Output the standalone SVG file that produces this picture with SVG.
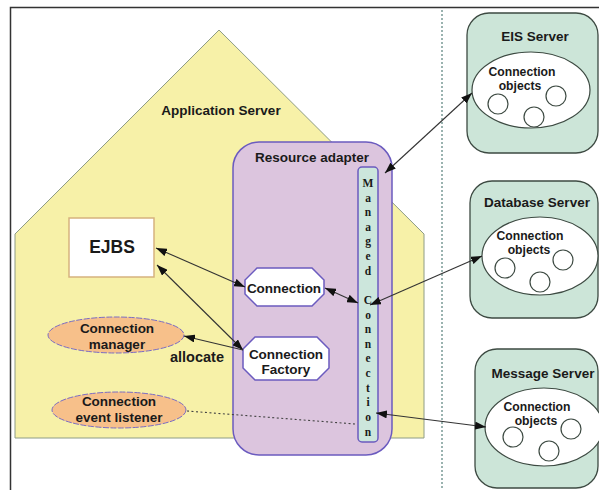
<svg xmlns="http://www.w3.org/2000/svg" width="599" height="490" viewBox="0 0 599 490">
  <style>
    text { font-family: "Liberation Sans", Arial, Helvetica, sans-serif; font-weight: bold; fill: #1a1a1a; text-anchor: middle; }
    .t135 { font-size: 13.5px; }
    .t12 { font-size: 12.2px; }
    .mc { font-family: "Liberation Serif", "Times New Roman", serif; font-size: 11.5px; font-weight: bold; }
    .frame { fill: none; stroke: #333; stroke-width: 1.5; }
    .house { fill: #f7f1a8; stroke: #8e9c86; stroke-width: 1; }
    .ra { fill: #dcc5de; stroke: #6b5bbf; stroke-width: 1.5; }
    .mcbox { fill: #cce6dc; stroke: #6b5bbf; stroke-width: 1.5; }
    .oct { fill: #ffffff; stroke: #6b5bbf; stroke-width: 1.5; }
    .ejb { fill: #ffffff; stroke: #d6b27e; stroke-width: 1.5; }
    .orange { fill: #f7c08a; stroke: #7a6cc4; stroke-width: 1; stroke-dasharray: 6 1.5; }
    .server { fill: #cce5d8; stroke: #3d4a42; stroke-width: 1.3; }
    .pool { fill: #ffffff; stroke: #3d4a42; stroke-width: 1.2; }
    .obj { fill: #ffffff; stroke: #3d4a42; stroke-width: 1.2; }
    .divider { stroke: #7a9a96; stroke-width: 1.5; stroke-dasharray: 2 2; fill: none; }
    .link { stroke: #333; stroke-width: 1.1; fill: none; }
    .dotted { stroke: #444; stroke-width: 1.1; stroke-dasharray: 2 2.5; fill: none; }
  </style>
  <defs>
    <marker id="head" markerUnits="userSpaceOnUse" markerWidth="11" markerHeight="8" refX="11" refY="4" orient="auto-start-reverse">
      <path d="M0,0 L11,4 L0,8 z" fill="#111"/>
    </marker>
  </defs>

  <!-- page frame -->
  <path class="frame" d="M10.5,490 L10.5,7.5 L599,7.5"/>
  <!-- zone divider -->
  <line class="divider" x1="442" y1="10" x2="442" y2="490"/>

  <!-- application server -->
  <g id="application-server">
    <polygon class="house" points="15,234 219,30 424,234 424,438 15,438"/>
    <text class="t135" x="221" y="115">Application Server</text>
  </g>

  <!-- resource adapter -->
  <g id="resource-adapter">
    <rect class="ra" x="233" y="142" width="159" height="313" rx="26" ry="26"/>
    <text class="t135" x="312" y="162">Resource adapter</text>
  </g>

  <g id="managed-connection">
    <rect class="mcbox" x="358" y="167" width="20" height="275" rx="4" ry="4"/>
    <text class="mc" x="368" y="187">M</text>
    <text class="mc" x="368" y="202">a</text>
    <text class="mc" x="368" y="216">n</text>
    <text class="mc" x="368" y="231">a</text>
    <text class="mc" x="368" y="245">g</text>
    <text class="mc" x="368" y="260">e</text>
    <text class="mc" x="368" y="275">d</text>
    <text class="mc" x="368" y="304">C</text>
    <text class="mc" x="368" y="319">o</text>
    <text class="mc" x="368" y="333">n</text>
    <text class="mc" x="368" y="348">n</text>
    <text class="mc" x="368" y="362">e</text>
    <text class="mc" x="368" y="377">c</text>
    <text class="mc" x="368" y="392">t</text>
    <text class="mc" x="368" y="406">i</text>
    <text class="mc" x="368" y="421">o</text>
    <text class="mc" x="368" y="436">n</text>
  </g>

  <g id="connection">
    <polygon class="oct" points="257,268 312,268 324,280 324,294 312,306 257,306 245,294 245,280"/>
    <text class="t135" x="284" y="293">Connection</text>
  </g>

  <g id="connection-factory">
    <polygon class="oct" points="255,337 317,337 329,349 329,368 317,380 255,380 243,368 243,349"/>
    <text class="t135" x="286" y="358.5">Connection</text>
    <text class="t135" x="286" y="374">Factory</text>
  </g>

  <g id="ejbs">
    <rect class="ejb" x="69" y="218" width="85" height="59"/>
    <text x="112" y="253" style="font-size:17.5px">EJBS</text>
  </g>

  <g id="connection-manager">
    <ellipse class="orange" cx="116" cy="335" rx="68" ry="18"/>
    <text class="t135" x="117" y="333">Connection</text>
    <text class="t135" x="117" y="348.5">manager</text>
  </g>

  <g id="event-listener">
    <ellipse class="orange" cx="119" cy="410" rx="67" ry="18"/>
    <text class="t135" x="119" y="406">Connection</text>
    <text class="t135" x="119" y="421.5">event listener</text>
  </g>

  <!-- back-end servers -->
  <g id="eis-server">
    <rect class="server" x="467" y="13" width="131" height="140" rx="22" ry="22"/>
    <text class="t135" x="535" y="41">EIS Server</text>
    <ellipse class="pool" cx="531" cy="90" rx="59" ry="38"/>
    <text class="t12" x="522" y="75.5">Connection</text>
    <text class="t12" x="520" y="89.5">objects</text>
    <circle class="obj" cx="498" cy="104" r="10"/>
    <circle class="obj" cx="534" cy="117" r="10"/>
    <circle class="obj" cx="556" cy="96" r="10"/>
  </g>

  <g id="database-server">
    <rect class="server" x="470" y="181" width="128" height="137" rx="22" ry="22"/>
    <text class="t135" x="537" y="207">Database Server</text>
    <ellipse class="pool" cx="540" cy="256" rx="58" ry="39"/>
    <text class="t12" x="530" y="239.5">Connection</text>
    <text class="t12" x="529" y="253.5">objects</text>
    <circle class="obj" cx="505" cy="268" r="10"/>
    <circle class="obj" cx="540" cy="282" r="10"/>
    <circle class="obj" cx="563" cy="260" r="10"/>
  </g>

  <g id="message-server">
    <rect class="server" x="475" y="349" width="123" height="139" rx="22" ry="22"/>
    <text class="t135" x="543" y="378">Message Server</text>
    <ellipse class="pool" cx="544" cy="427" rx="59" ry="39"/>
    <text class="t12" x="537" y="410.5">Connection</text>
    <text class="t12" x="536" y="424.5">objects</text>
    <circle class="obj" cx="513" cy="437" r="10"/>
    <circle class="obj" cx="549" cy="451" r="10"/>
    <circle class="obj" cx="571" cy="429" r="10"/>
  </g>

  <!-- connectors -->
  <g id="connectors">
    <line class="link" x1="156" y1="248" x2="245" y2="287" marker-start="url(#head)" marker-end="url(#head)"/>
    <line class="link" x1="157" y1="265" x2="243" y2="350" marker-start="url(#head)" marker-end="url(#head)"/>
    <line class="link" x1="184" y1="336" x2="243" y2="350" marker-start="url(#head)"/>
    <line class="link" x1="325" y1="288" x2="358" y2="303" marker-start="url(#head)" marker-end="url(#head)"/>
    <line class="link" x1="472" y1="93" x2="385" y2="173" marker-start="url(#head)" marker-end="url(#head)"/>
    <line class="link" x1="482" y1="256" x2="370" y2="305" marker-start="url(#head)" marker-end="url(#head)"/>
    <line class="link" x1="486" y1="427" x2="376" y2="413" marker-start="url(#head)" marker-end="url(#head)"/>
    <line class="dotted" x1="187" y1="411" x2="355" y2="424"/>
    <text class="t135" x="197" y="362" style="font-size:14.5px">allocate</text>
  </g>
</svg>
